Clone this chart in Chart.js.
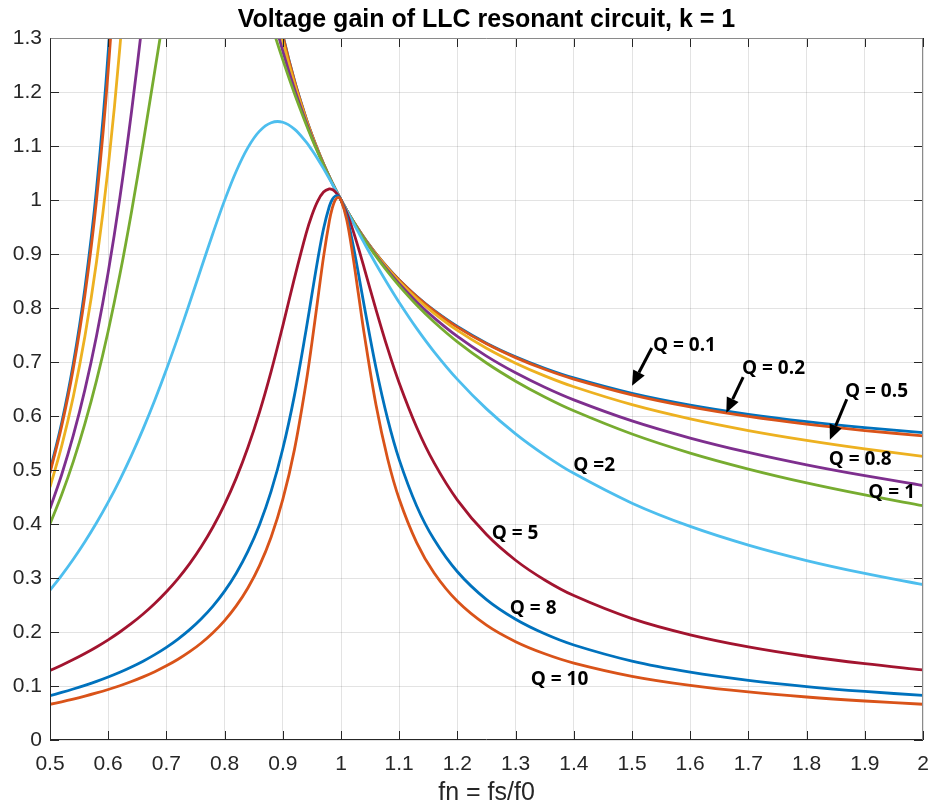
<!DOCTYPE html>
<html>
<head>
<meta charset="utf-8">
<title>Voltage gain of LLC resonant circuit</title>
<script src="https://cdn.jsdelivr.net/npm/chart.js@4.4.1/dist/chart.umd.min.js"></script>
<style>
  html, body { margin: 0; padding: 0; background: #fff; }
  #chart { display: block; }
</style>
</head>
<body>
<canvas id="chart" width="935" height="810"></canvas>
<script>
"use strict";

// normalised frequency fn = fs/f0
const fn = [0.5, 0.52, 0.54, 0.56, 0.58, 0.6, 0.62, 0.64, 0.66, 0.68, 0.7, 0.72, 0.74, 0.76, 0.78, 0.8,
  0.82, 0.84, 0.86, 0.88, 0.9, 0.92, 0.94, 0.95, 0.96, 0.97, 0.98, 0.985, 0.99, 0.995, 1,
  1.01, 1.02, 1.03, 1.04, 1.06, 1.08, 1.1, 1.13, 1.16, 1.2, 1.25, 1.3, 1.35, 1.4, 1.5, 1.6, 1.7, 1.8, 1.9, 2];

// gain read for each quality factor
const gainQ01 = [0.4986, 0.5869, 0.6967, 0.8368, 1.021, 1.2738, 1.6402, 2.2178, 3.2495, 5.531, 11.97, 10.25, 5.427, 3.644, 2.779, 2.2737,
  1.944, 1.7127, 1.5417, 1.41, 1.306, 1.2215, 1.1516, 1.121, 1.0929, 1.067, 1.043, 1.0317, 1.0207, 1.0102, 1,
  0.9807, 0.9626, 0.9457, 0.9298, 0.9008, 0.8751, 0.852, 0.8216, 0.7954, 0.7657, 0.7349, 0.7096, 0.6884, 0.6705, 0.6419, 0.6202, 0.6032, 0.5896, 0.5785, 0.5693];
const gainQ02 = [0.4945, 0.581, 0.6881, 0.8239, 1.0008, 1.24, 1.5788, 2.0906, 2.9273, 4.409, 6.609, 6.602, 4.706, 3.439, 2.701, 2.2389,
  1.9267, 1.7035, 1.5367, 1.4073, 1.3046, 1.2208, 1.1512, 1.1208, 1.0928, 1.0669, 1.043, 1.0316, 1.0207, 1.0102, 1,
  0.9807, 0.9626, 0.9457, 0.9297, 0.9007, 0.8748, 0.8517, 0.8211, 0.7948, 0.7647, 0.7337, 0.7081, 0.6866, 0.6684, 0.6392, 0.6168, 0.5992, 0.5849, 0.5731, 0.5632];
const gainQ05 = [0.4682, 0.5442, 0.6358, 0.7477, 0.8862, 1.0604, 1.2821, 1.5663, 1.9238, 2.3396, 2.728, 2.925, 2.844, 2.587, 2.294, 2.0327,
  1.817, 1.6431, 1.5029, 1.3884, 1.2943, 1.2155, 1.1488, 1.1192, 1.0919, 1.0665, 1.0428, 1.0315, 1.0207, 1.0102, 1,
  0.9806, 0.9624, 0.9453, 0.9292, 0.8996, 0.8732, 0.8493, 0.8177, 0.7901, 0.7585, 0.7254, 0.6978, 0.6743, 0.6541, 0.621, 0.5947, 0.5731, 0.5549, 0.5391, 0.5252];
const gainQ08 = [0.4287, 0.4912, 0.5639, 0.6489, 0.7487, 0.8661, 1.0036, 1.1629, 1.3418, 1.5313, 1.7115, 1.8525, 1.9265, 1.9249, 1.8623, 1.765,
  1.6549, 1.5462, 1.4457, 1.3553, 1.2759, 1.2058, 1.1443, 1.1163, 1.0902, 1.0656, 1.0424, 1.0313, 1.0206, 1.0101, 1,
  0.9806, 0.9622, 0.9448, 0.9283, 0.8977, 0.8701, 0.845, 0.8113, 0.7817, 0.7473, 0.7108, 0.6799, 0.6532, 0.6299, 0.5909, 0.5592, 0.5325, 0.5095, 0.4894, 0.4713];
const gainQ1 = [0.4, 0.454, 0.5154, 0.5857, 0.6659, 0.7575, 0.8614, 0.9779, 1.1052, 1.239, 1.3704, 1.4867, 1.5733, 1.6199, 1.6241, 1.5933,
  1.5383, 1.4704, 1.3982, 1.3268, 1.2595, 1.1971, 1.1402, 1.1137, 1.0886, 1.0648, 1.0421, 1.0312, 1.0205, 1.0101, 1,
  0.9805, 0.9619, 0.9442, 0.9274, 0.896, 0.8673, 0.8411, 0.8056, 0.7742, 0.7374, 0.6981, 0.6645, 0.6353, 0.6097, 0.5667, 0.5314, 0.5018, 0.4762, 0.4539, 0.4339];
const gainQ2 = [0.2774, 0.3049, 0.3347, 0.3671, 0.4022, 0.4404, 0.4819, 0.5271, 0.5761, 0.6291, 0.686, 0.7465, 0.8097, 0.8745, 0.9385, 0.9993,
  1.0533, 1.097, 1.1275, 1.1431, 1.144, 1.1312, 1.1075, 1.0925, 1.076, 1.0581, 1.0393, 1.0297, 1.0199, 1.01, 1,
  0.9799, 0.9598, 0.9399, 0.9201, 0.8816, 0.845, 0.8103, 0.7623, 0.7189, 0.6678, 0.6132, 0.567, 0.5277, 0.4938, 0.4386, 0.3955, 0.3609, 0.3323, 0.3084, 0.2879];
const gainQ5 = [0.1288, 0.1385, 0.149, 0.1602, 0.1723, 0.1855, 0.2, 0.2158, 0.2333, 0.2528, 0.2745, 0.2989, 0.3266, 0.3582, 0.3944, 0.4363,
  0.4849, 0.5416, 0.6072, 0.6827, 0.767, 0.8552, 0.9378, 0.9718, 0.998, 1.0148, 1.0206, 1.0193, 1.0154, 1.0089, 1,
  0.976, 0.9456, 0.9108, 0.8735, 0.7976, 0.7256, 0.6611, 0.5791, 0.5131, 0.4443, 0.3804, 0.3329, 0.2964, 0.2675, 0.2248, 0.1948, 0.1724, 0.1551, 0.1413, 0.1298];
const gainQ8 = [0.0822, 0.0881, 0.0944, 0.1012, 0.1086, 0.1167, 0.1255, 0.1353, 0.146, 0.1581, 0.1716, 0.1869, 0.2043, 0.2245, 0.248, 0.2757,
  0.3089, 0.3492, 0.3988, 0.4608, 0.5393, 0.6382, 0.7592, 0.8249, 0.8894, 0.9467, 0.9884, 1.001, 1.0072, 1.0069, 1,
  0.9689, 0.9207, 0.8633, 0.8031, 0.6897, 0.595, 0.5192, 0.4334, 0.3711, 0.3115, 0.2599, 0.2235, 0.1966, 0.1759, 0.1461, 0.1256, 0.1105, 0.099, 0.0899, 0.0825];
const gainQ10 = [0.0661, 0.0708, 0.0758, 0.0812, 0.0871, 0.0935, 0.1005, 0.1083, 0.1169, 0.1265, 0.1373, 0.1495, 0.1635, 0.1797, 0.1987, 0.2212,
  0.2483, 0.2815, 0.3229, 0.3759, 0.4454, 0.5377, 0.6613, 0.7355, 0.8153, 0.8947, 0.9612, 0.9849, 0.9999, 1.005, 1,
  0.9625, 0.8995, 0.8254, 0.7512, 0.6212, 0.5213, 0.4462, 0.3655, 0.3093, 0.2569, 0.2127, 0.1821, 0.1597, 0.1425, 0.118, 0.1012, 0.089, 0.0796, 0.0722, 0.0662];

const seriesLabels = ["Q = 0.1", "Q = 0.2", "Q = 0.5", "Q = 0.8", "Q = 1", "Q = 2", "Q = 5", "Q = 8", "Q = 10"];
const seriesValues = [gainQ01, gainQ02, gainQ05, gainQ08, gainQ1, gainQ2, gainQ5, gainQ8, gainQ10];

// matlab default line colours, cycling
const colors = ["#0072BD", "#D95319", "#EDB120", "#7E2F8E", "#77AC30", "#4DBEEE", "#A2142F", "#0072BD", "#D95319"];

// text callouts, in data coordinates (left edge, vertical middle)
const callouts = [
  { text: "Q = 0.1", x: 1.536, y: 0.731 },
  { text: "Q = 0.2", x: 1.689, y: 0.687 },
  { text: "Q = 0.5", x: 1.866, y: 0.646 },
  { text: "Q = 0.8", x: 1.838, y: 0.519 },
  { text: "Q = 1", x: 1.906, y: 0.459 },
  { text: "Q =2", x: 1.399, y: 0.509 },
  { text: "Q = 5", x: 1.259, y: 0.383 },
  { text: "Q = 8", x: 1.29, y: 0.244 },
  { text: "Q = 10", x: 1.326, y: 0.111 },
];
// arrows: [x from, y from, x to, y to]
const arrows = [
  [1.534, 0.726, 1.5, 0.656],
  [1.691, 0.672, 1.662, 0.606],
  [1.869, 0.631, 1.84, 0.556],
];

const axisColor = "#262626";
const tickFont = { family: "'Liberation Sans', Arial, sans-serif", size: 21 };
const fmt = (v) => String(Number(v.toFixed(1)));

const datasets = seriesValues.map((values, i) => ({
  label: seriesLabels[i],
  data: fn.map((x, j) => ({ x, y: values[j] })),
  borderColor: colors[i],
  backgroundColor: colors[i],
  borderWidth: 2.8,
  pointRadius: 0,
  tension: 0.35,
  clip: 0,
  // later series on top, as in matlab
  order: seriesValues.length - i,
}));

function drawArrow(ctx, x1, y1, x2, y2) {
  const angle = Math.atan2(y2 - y1, x2 - x1);
  const head = 15;
  const half = 6.5;
  const bx = x2 - head * Math.cos(angle);
  const by = y2 - head * Math.sin(angle);
  ctx.beginPath();
  ctx.moveTo(x1, y1);
  ctx.lineTo(bx, by);
  ctx.stroke();
  ctx.beginPath();
  ctx.moveTo(x2, y2);
  ctx.lineTo(bx + half * Math.sin(angle), by - half * Math.cos(angle));
  ctx.lineTo(bx - half * Math.sin(angle), by + half * Math.cos(angle));
  ctx.closePath();
  ctx.fill();
}

const frame = {
  id: "frame",
  afterDatasetsDraw(chart) {
    const { ctx, chartArea: a, scales } = chart;
    const { x, y } = scales;
    ctx.save();
    ctx.lineWidth = 1;

    // inward tick marks on all four sides
    ctx.strokeStyle = axisColor;
    ctx.beginPath();
    x.ticks.forEach((t) => {
      const px = Math.round(x.getPixelForValue(t.value)) + 0.5;
      ctx.moveTo(px, a.bottom);
      ctx.lineTo(px, a.bottom - 9);
      ctx.moveTo(px, a.top);
      ctx.lineTo(px, a.top + 9);
    });
    y.ticks.forEach((t) => {
      const py = Math.round(y.getPixelForValue(t.value)) + 0.5;
      ctx.moveTo(a.left, py);
      ctx.lineTo(a.left + 9, py);
      ctx.moveTo(a.right, py);
      ctx.lineTo(a.right - 9, py);
    });
    ctx.stroke();

    // box
    const l = Math.round(a.left) + 0.5;
    const r = Math.round(a.right) - 0.5;
    const t = Math.round(a.top) + 0.5;
    const b = Math.round(a.bottom) - 0.5;
    ctx.strokeStyle = "#8a8a8a";
    ctx.beginPath();
    ctx.moveTo(l, t);
    ctx.lineTo(r, t);
    ctx.lineTo(r, b);
    ctx.stroke();
    ctx.strokeStyle = axisColor;
    ctx.beginPath();
    ctx.moveTo(l, t);
    ctx.lineTo(l, b);
    ctx.lineTo(r, b);
    ctx.stroke();

    // title
    ctx.fillStyle = "#000";
    ctx.font = "bold 25px 'Liberation Sans', Arial, sans-serif";
    ctx.textAlign = "center";
    ctx.textBaseline = "middle";
    ctx.fillText("Voltage gain of LLC resonant circuit, k = 1", (a.left + a.right) / 2, 20);

    // callouts
    ctx.font = "bold 19px 'Open Sans', Lato, sans-serif";
    ctx.textAlign = "left";
    callouts.forEach((c) => {
      ctx.fillText(c.text, x.getPixelForValue(c.x), y.getPixelForValue(c.y));
    });
    ctx.strokeStyle = "#000";
    ctx.lineWidth = 3;
    arrows.forEach(([x1, y1, x2, y2]) => {
      drawArrow(ctx,
        x.getPixelForValue(x1), y.getPixelForValue(y1),
        x.getPixelForValue(x2), y.getPixelForValue(y2));
    });
    ctx.restore();
  },
};

new Chart(document.getElementById("chart"), {
  type: "line",
  data: { datasets },
  plugins: [frame],
  options: {
    responsive: false,
    animation: false,
    layout: { padding: { top: 38, right: 12, left: 0, bottom: 0 } },
    plugins: {
      legend: { display: false },
      tooltip: { enabled: false },
      title: { display: false },
    },
    scales: {
      x: {
        type: "linear",
        min: 0.5,
        max: 2,
        ticks: {
          stepSize: 0.1,
          color: axisColor,
          font: tickFont,
          padding: 12,
          maxRotation: 0,
          autoSkip: false,
          callback: fmt,
        },
        grid: { color: "rgba(38,38,38,0.13)", drawTicks: false },
        border: { display: false },
        title: {
          display: true,
          text: "fn = fs/f0",
          color: axisColor,
          font: { family: tickFont.family, size: 25 },
          padding: { top: 0, bottom: 2 },
        },
        afterFit(scale) {
          scale.height = 70;
          scale.paddingLeft = 0;
          scale.paddingRight = 0;
        },
      },
      y: {
        min: 0,
        max: 1.3,
        ticks: {
          stepSize: 0.1,
          color: axisColor,
          font: tickFont,
          padding: 8,
          autoSkip: false,
          callback: fmt,
        },
        grid: { color: "rgba(38,38,38,0.13)", drawTicks: false },
        border: { display: false },
        afterFit(scale) {
          scale.width = 50;
          scale.paddingTop = 0;
          scale.paddingBottom = 0;
        },
      },
    },
  },
});
</script>
</body>
</html>
